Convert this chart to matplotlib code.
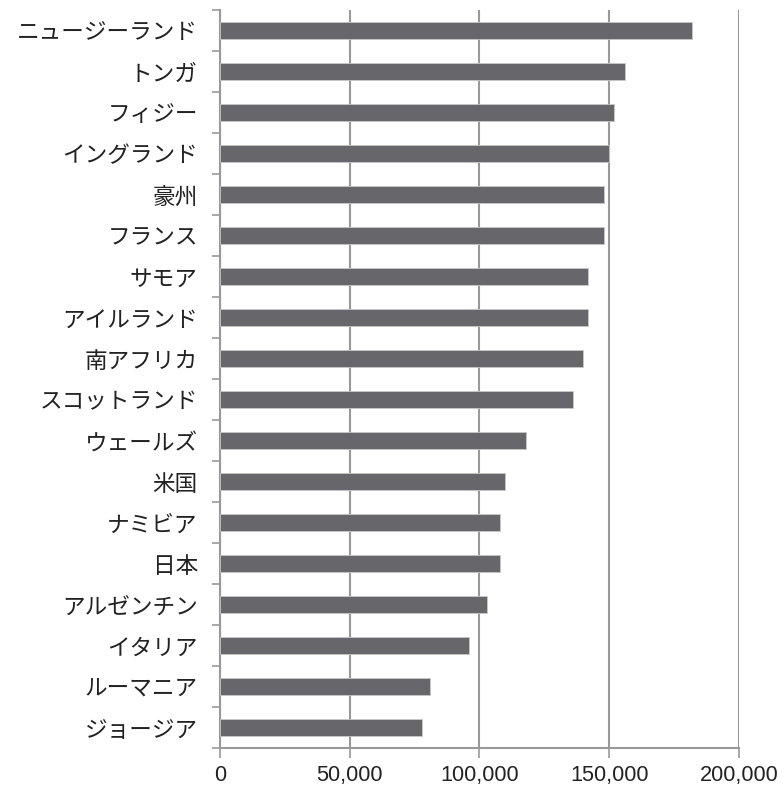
import matplotlib
matplotlib.use("Agg")
import matplotlib.pyplot as plt
from matplotlib.ticker import FuncFormatter, FixedLocator

plt.rcParams['font.family'] = ['Liberation Sans', 'Noto Sans CJK JP', 'DejaVu Sans']

countries = ["ニュージーランド", "トンガ", "フィジー", "イングランド", "豪州", "フランス",
             "サモア", "アイルランド", "南アフリカ", "スコットランド", "ウェールズ", "米国",
             "ナミビア", "日本", "アルゼンチン", "イタリア", "ルーマニア", "ジョージア"]
values = [182000, 156000, 152000, 150000, 148000, 148000,
          142000, 142000, 140000, 136000, 118000, 110000,
          108000, 108000, 103000, 96000, 81000, 78000]
xticks = [0, 50000, 100000, 150000, 200000]

fig = plt.figure(figsize=(7.84, 7.93), dpi=100)
ax = fig.add_axes([0.2806, 0.0567, 0.662, 0.9307])

n = len(countries)
pos = list(range(n))
ax.barh(pos, values, height=0.41, color='#67666b', edgecolor='#c8c8c8', linewidth=0.6, zorder=3)
ax.set_ylim(n - 0.5, -0.5)
ax.set_xlim(0, 200000)

ax.set_yticks(pos)
ax.set_yticklabels(countries, fontsize=16.3, color='#222222',
                   family=['Noto Sans CJK JP', 'DejaVu Sans'])
ax.yaxis.set_minor_locator(FixedLocator([i - 0.5 for i in range(n + 1)]))
ax.tick_params(axis='y', which='major', length=0, pad=16)
ax.tick_params(axis='y', which='minor', length=6, width=1.2, color='#999999', direction='out')

ax.set_xticks(xticks)
ax.xaxis.set_major_formatter(FuncFormatter(lambda v, p: f"{int(v):,}"))
ax.tick_params(axis='x', which='major', length=7, width=1.2, color='#999999',
               labelsize=15.7, labelcolor='#222222', pad=5.5)

ax.grid(axis='x', color='#999999', linewidth=1.5, zorder=0)
ax.set_axisbelow(True)
for s in ['top', 'right']:
    ax.spines[s].set_visible(False)
for s in ['left', 'bottom']:
    ax.spines[s].set_color('#999999')
    ax.spines[s].set_linewidth(1.5)

fig.savefig('out.png', dpi=100)
